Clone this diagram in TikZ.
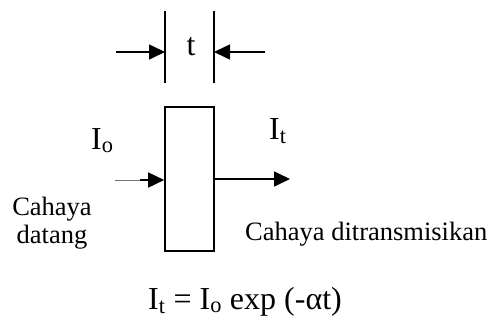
\documentclass[tikz,border=0pt]{standalone}
\usepackage{fontspec}
\setmainfont{Liberation Serif}
\usetikzlibrary{positioning, arrows.meta}
\tikzset{
  slab/.style  = {rectangle, draw=black, line width=1.6pt, fill=white,
                  minimum width=49pt, minimum height=144pt, inner sep=0pt},
  lbl/.style   = {inner sep=0pt, font=\fontsize{26.5}{28}\selectfont},
  big/.style   = {inner sep=0pt, font=\fontsize{32}{36}\selectfont},
  dimln/.style = {line width=1.6pt},
  ar/.style    = {-{Triangle[length=16pt,width=15pt]}, line width=1.6pt},
  thinar/.style= {line width=0.5pt, draw=black!55},
}

\begin{document}
\begin{tikzpicture}[x=1pt, y=-1pt]
  \useasboundingbox (0,0) rectangle (492,325);

  % ----- slab -----
  \node[slab] (slab) at (189.5,179) {};

  % ----- thickness marks (top) -----
  \coordinate (lt) at (165,11);
  \coordinate (lb) at (165,83);
  \coordinate (rt) at (214,11);
  \coordinate (rb) at (214,83);
  \draw[dimln] (lt) -- (lb);
  \draw[dimln] (rt) -- (rb);
  \coordinate (lhit) at (165,52);
  \coordinate (rhit) at (214,52);
  \coordinate (lfrom) at (116,52);
  \coordinate (rfrom) at (265,52);
  \draw[ar] (lfrom) -- (lhit);
  \draw[ar] (rfrom) -- (rhit);
  \node[big, anchor=base] (tlbl) at (191,55) {t};

  % ----- incoming light -----
  \coordinate (infar) at (115,180);
  \coordinate (inmid) at (140,180);
  \draw[thinar] (infar) -- (inmid);
  \draw[ar] (inmid) -- (slab.west |- inmid);
  \node[big, anchor=base west] (Io) at (91,149) {I\textsubscript{o}};
  \node[lbl, align=center, anchor=base] (datang) at (52,243)
       {Cahaya\\datang};

  % ----- transmitted light -----
  \coordinate (outend) at (290,179);
  \draw[ar] (slab.east |- outend) -- (outend);
  \node[big, anchor=base west] (It) at (269,139) {I\textsubscript{t}};
  \node[lbl, anchor=base west] (trans) at (245,240) {Cahaya ditransmisikan};

  % ----- law -----
  \node[big, anchor=base west] (law) at (148,309)
       {I\textsubscript{t} = I\textsubscript{o} exp (-αt)};

\end{tikzpicture}
\end{document}
